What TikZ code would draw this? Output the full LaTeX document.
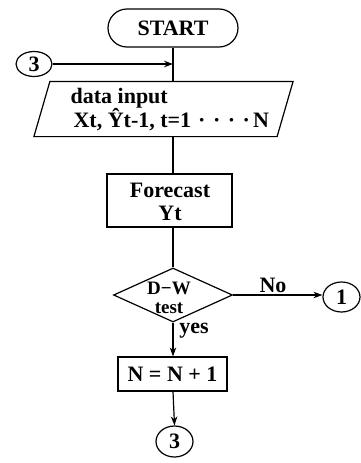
\documentclass[tikz,border=0pt]{standalone}
\usepackage{fontspec}
\setmainfont{Liberation Serif}
\usetikzlibrary{shapes.geometric,shapes.misc,arrows.meta}
\begin{document}
\begin{tikzpicture}[x=1pt,y=-1pt,line width=1.2pt,
  every node/.style={font=\fontsize{22}{24}\selectfont\bfseries, inner sep=0pt},
  arr/.style={-{Stealth[length=9pt,width=6.5pt]}},
  procbox/.style={draw, rectangle},
  conn/.style={draw, ellipse}]
\useasboundingbox (0,0) rectangle (360,463);
% nodes
\node[draw, rounded rectangle, minimum width=130, minimum height=38] (start) at (173,28) {START};
\node[conn, minimum width=36, minimum height=25] (c3top) at (34,64) {3};
\node[minimum width=242, minimum height=54] (data) at (163.5,109) {};
\draw ([xshift=8pt]data.north west) -- ([xshift=8pt]data.north east)
   -- ([xshift=-8pt]data.south east) -- ([xshift=-8pt]data.south west) -- cycle;
\node[anchor=base west] (dl1) at (70,103) {data input};
\node[anchor=base west] (dl2) at (73,127) {Xt, Ŷt-1, t=1\hspace{7pt}·\hspace{7.5pt}·\hspace{7.5pt}·\hspace{7.5pt}·\hspace{3pt}N};
\node[procbox, minimum width=125, minimum height=53] (fc) at (169.5,200.5) {};
\node[anchor=base] (fct) at (170,197) {Forecast};
\node[anchor=base] (yt) at (170,220) {Yt};
\node[draw, diamond, minimum width=119, minimum height=54] (dw) at (173,295) {};
\node[align=center, font=\fontsize{19}{19}\selectfont\bfseries, anchor=base] (dwt) at (169,313) {D−W\\test};
\node[conn, minimum width=37, minimum height=30] (c1) at (341.5,297) {1};
\node[procbox, minimum width=109, minimum height=34] (nb) at (172.5,374) {N = N + 1};
\node[conn, minimum width=37, minimum height=31] (c3b) at (174.5,441.5) {3};
\node (no) at (273,285) {No};
\node (yes) at (194,331) {yes};
% connectors
\draw (start.south) -- (start.south |- data.north);
\draw[arr] (c3top.east) -- (c3top.east -| start.south);
\draw (start.south |- data.south) -- (start.south |- fc.north);
\draw (start.south |- fc.south) -- (dw.north);
\draw[arr] (dw.east) -- (dw.east -| c1.west);
\draw[arr] (dw.south) -- (dw.south |- nb.north);
\draw[arr] (nb.south -| dw.south) -- (c3b.north);
\end{tikzpicture}
\end{document}
